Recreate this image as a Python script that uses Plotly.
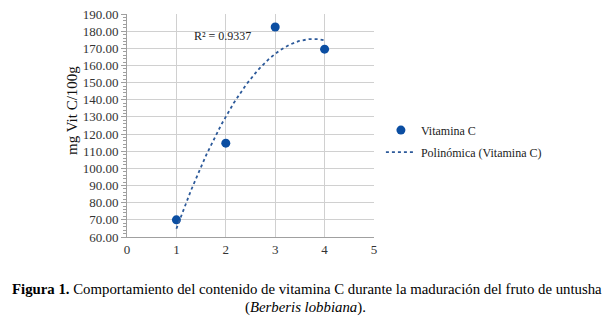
import numpy as np
import plotly.graph_objects as go

# Data
stages = [1, 2, 3, 4]
vit_c = [70.0, 114.7, 182.4, 169.5]
r2_label = "R² = 0.9337"
y_title = "mg Vit C/100g"
x_ticks = [0, 1, 2, 3, 4, 5]
y_ticks = list(range(60, 191, 10))

# Polynomial (order 2) trendline fitted from the data, as the spreadsheet does
coef = np.polyfit(stages, vit_c, 2)
xt = np.linspace(min(stages), max(stages), 200)
yt = np.polyval(coef, xt)

blue = "#0b4ea2"
font = "Liberation Serif, Times New Roman, serif"

# the page body adds an 8px offset; figure is sized to fit the window
W, H = 603, 309
L, R, T, B = 119, 237, 6, 80
plot_w = W - L - R
plot_h = H - T - B


def px(fig_x):
    return (fig_x - L) / plot_w


def py(fig_y):
    return (H - B - fig_y) / plot_h


fig = go.Figure()
fig.add_trace(go.Scatter(x=stages, y=vit_c, mode="markers", name="Vitamina C",
                         legendgroup="a", marker=dict(color=blue, size=9)))
fig.add_trace(go.Scatter(x=xt, y=yt, mode="lines", name="Polinómica (Vitamina C)",
                         legendgroup="b", line=dict(color="#2d5a9a", width=1.8, dash="dot")))

fig.update_layout(
    width=W, height=H,
    margin=dict(l=L, r=R, t=T, b=B, autoexpand=False),
    paper_bgcolor="white", plot_bgcolor="white",
    font=dict(family=font, size=12, color="#222"),
    showlegend=True,
    legend=dict(x=1.028, y=0.43, xanchor="left", yanchor="middle",
                font=dict(family=font, size=12, color="#222"),
                bgcolor="rgba(0,0,0,0)", tracegroupgap=3, itemwidth=30),
    xaxis=dict(range=[0, 5], tickvals=x_ticks, showgrid=True, gridcolor="#d0d0d0",
               gridwidth=1, zeroline=False, showline=True, linecolor="#a0a0a0",
               ticks="", automargin=False,
               tickfont=dict(family=font, size=13, color="#333")),
    yaxis=dict(range=[60, 190], tickvals=y_ticks, tickformat=".2f", automargin=False,
               ticklabeloverflow="allow",
               showgrid=True, gridcolor="#d0d0d0", gridwidth=1, zeroline=False,
               showline=True, linecolor="#a0a0a0", ticks="outside", ticklen=5,
               tickcolor="#a0a0a0",
               minor=dict(ticks="outside", dtick=2, ticklen=3, tickcolor="#a0a0a0", showgrid=False),
               tickfont=dict(family=font, size=13, color="#333")),
    annotations=[
        dict(x=px(64), y=py(103), xref="paper", yref="paper", text=y_title,
             textangle=-90, showarrow=False, xanchor="center", yanchor="middle",
             font=dict(family=font, size=15, color="#111")),
        dict(x=1.94, y=177, xref="x", yref="y", text=r2_label, showarrow=False,
             font=dict(family=font, size=12, color="#222")),
        dict(x=px(299), y=py(281), xref="paper", yref="paper",
             xanchor="center", yanchor="middle",
             text="<b>Figura 1.</b> Comportamiento del contenido de vitamina C durante la maduración del fruto de untusha",
             showarrow=False, font=dict(family=font, size=14.8, color="#000")),
        dict(x=px(297), y=py(299), xref="paper", yref="paper",
             xanchor="center", yanchor="middle",
             text="(<i>Berberis lobbiana</i>).", showarrow=False,
             font=dict(family=font, size=14.8, color="#000")),
    ],
)

fig.write_html("out.html")
